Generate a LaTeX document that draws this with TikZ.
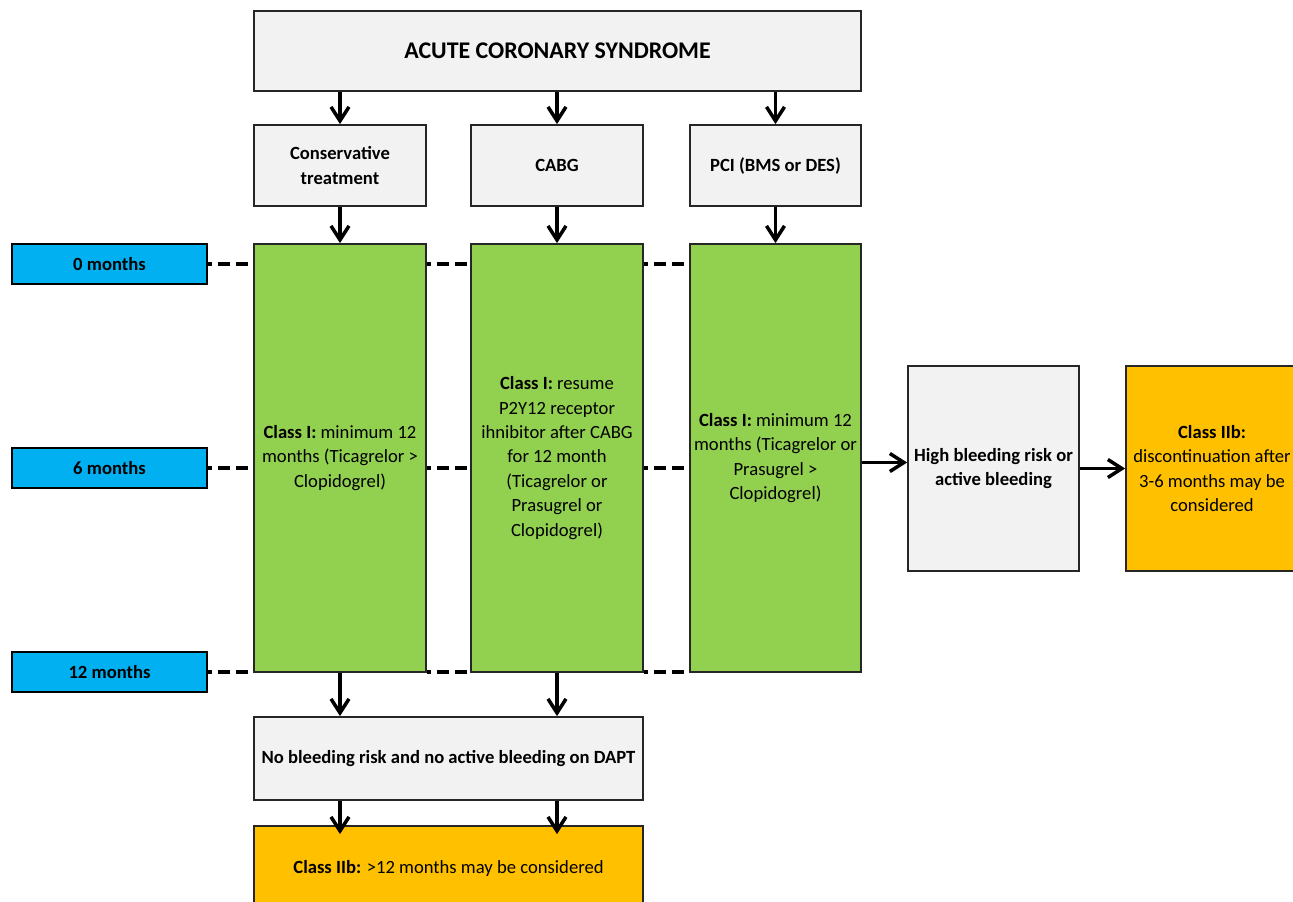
\documentclass[tikz,border=0pt]{standalone}
\usepackage{fontspec}
\setmainfont{Carlito}
\usetikzlibrary{arrows.meta}

\definecolor{boxgray}{HTML}{F2F2F2}
\definecolor{boxgreen}{HTML}{92D050}
\definecolor{boxblue}{HTML}{00B0F0}
\definecolor{boxorange}{HTML}{FFC000}

\begin{document}
\begin{tikzpicture}[
        box/.style={draw=black!85,line width=1pt,fill=boxgray,inner sep=0pt,align=center,
            font=\fontsize{10.6}{13.9}\selectfont\bfseries},
        greenbox/.style={box,fill=boxgreen,font=\fontsize{10.6}{13.9}\selectfont,minimum width=3.44cm,minimum height=8.56cm},
        orangebox/.style={box,fill=boxorange,font=\fontsize{10.6}{13.9}\selectfont},
        timebox/.style={box,fill=boxblue,draw=black,minimum width=3.9cm,minimum height=0.8cm},
        arr/.style={line width=2pt,-{Straight Barb[length=0.28cm,width=0.36cm,line width=2pt]}},
        timeline/.style={line width=2pt,dash pattern=on 0.24cm off 0.12cm,dash phase=0.16cm}]
    \useasboundingbox (0,0) rectangle (25.86,-18.04);
    \node[box,minimum width=12.14cm,minimum height=1.6cm,font=\fontsize{13.6}{16}\selectfont\bfseries] (acs) at (11.15,-1.02) {ACUTE CORONARY SYNDROME};
    \node[box,minimum width=3.44cm,minimum height=1.62cm] (cons) at (6.8,-3.31) {Conservative\\treatment};
    \node[box,minimum width=3.44cm,minimum height=1.62cm] (cabg) at (11.14,-3.31) {CABG};
    \node[box,minimum width=3.42cm,minimum height=1.62cm] (pci) at (15.51,-3.31) {PCI (BMS or DES)};

    \node[greenbox] (consI) at (6.8,-9.16) {\textbf{Class I:} minimum 12\\months (Ticagrelor >\\Clopidogrel)};
    \node[greenbox] (cabgI) at (11.14,-9.16) {\textbf{Class I:} resume\\P2Y12 receptor\\ihnibitor after CABG\\for 12 month\\(Ticagrelor or\\Prasugrel or\\Clopidogrel)};
    \node[greenbox,minimum width=3.42cm] (pciI) at (15.51,-9.16) {\textbf{Class I:} minimum 12\\months (Ticagrelor or\\Prasugrel >\\Clopidogrel)};

    \node[timebox] (m0) at (2.19,-5.28) {0 months};
    \node[timebox] (m6) at (2.19,-9.36) {6 months};
    \node[timebox] (m12) at (2.19,-13.44) {12 months};

    \node[box,minimum width=3.42cm,minimum height=4.1cm] (hbr) at (19.87,-9.37) {High bleeding risk or\\active bleeding};
    \node[orangebox,minimum width=3.44cm,minimum height=4.1cm] (stopIIb) at (24.24,-9.37) {\textbf{Class IIb:}\\discontinuation after\\3-6 months may be\\considered};

    \node[box,minimum width=7.78cm,minimum height=1.66cm] (nobleed) at (8.97,-15.17) {No bleeding risk and no active bleeding on DAPT};
    \node[orangebox,minimum width=7.78cm,minimum height=1.68cm] (longIIb) at (8.97,-17.36) {\textbf{Class IIb:} >12 months may be considered};

    \foreach \col in {cons,cabg,pci} {
        \draw[arr] (acs.south -| \col) -- (\col.north);
        \draw[arr] (\col.south) -- (\col I.north);
    }
    \foreach \m in {m0,m6,m12} {
        \draw[timeline] (\m.east) -- (\m.east -| consI.west);
        \draw[timeline] (\m.east -| consI.east) -- (\m.east -| cabgI.west);
        \draw[timeline] (\m.east -| cabgI.east) -- (\m.east -| pciI.west);
    }
    \draw[arr] ([yshift=0.12cm]pciI.east |- hbr.west) -- ([yshift=0.12cm]hbr.west);
    \draw[arr] (hbr.east) -- (stopIIb.west);
    \foreach \col in {consI,cabgI} {
        \draw[arr] (\col.south) -- (nobleed.north -| \col);
        \draw[arr] (nobleed.south -| \col) -- ([yshift=-0.18cm]longIIb.north -| \col);
    }
\end{tikzpicture}
\end{document}
